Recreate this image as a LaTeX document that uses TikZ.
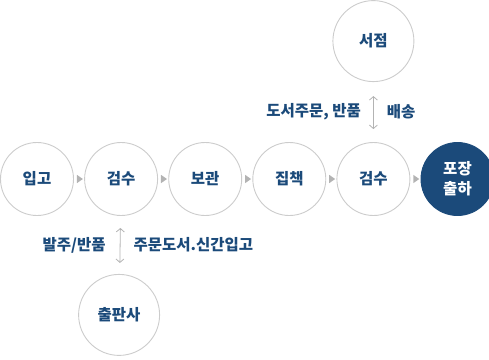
\documentclass[tikz,border=0pt]{standalone}
\usepackage{fontspec}
\setmainfont{Noto Sans CJK KR}
\usepackage{tikz}
\usetikzlibrary{shapes,arrows.meta,positioning,calc}

\definecolor{navy}{HTML}{1B4A7A}
\definecolor{ring}{HTML}{CCCCCC}
\definecolor{tip}{HTML}{B3B3B3}

\begin{document}
\begin{tikzpicture}[
    node distance=10.2pt,
    stage/.style={circle, draw=ring, line width=0.9pt, fill=white, minimum size=73pt, inner sep=0pt, text=navy, font=\fontsize{15.5pt}{20pt}\selectfont\bfseries, align=center},
    outer/.style={stage, minimum size=81pt},
    final/.style={stage, draw=navy, fill=navy, text=white},
    tri/.style={isosceles triangle, fill=tip, inner sep=0pt, minimum height=6pt, minimum width=7pt, isosceles triangle apex angle=70},
    line/.style={draw=tip, line width=0.8pt, {Straight Barb[length=3.5pt,width=8pt]}-{Straight Barb[length=3.5pt,width=8pt]}},
    lbl/.style={text=navy, font=\fontsize{15.5pt}{18pt}\selectfont\bfseries, inner sep=0pt}
]
    \useasboundingbox (0,0) rectangle (489pt,-359pt);

    \node [stage] (stock) at (37pt,-179pt) {입고};
    \node [stage, right=of stock] (check1) {검수};
    \node [stage, right=of check1] (keep) {보관};
    \node [stage, right=of keep] (pick) {집책};
    \node [stage, right=of pick] (check2) {검수};
    \node [final, right=of check2] (ship) {포장\\출하};

    \node [outer, above=60pt of check2] (store) {서점};
    \node [outer, below=58pt of check1, xshift=-2pt] (pub) {출판사};

    \path (stock) -- node[tri] {} (check1);
    \path (check1) -- node[tri] {} (keep);
    \path (keep) -- node[tri] {} (pick);
    \path (pick) -- node[tri] {} (check2);
    \path (check2) -- node[tri] {} (ship);

    \path [line, shorten <=14pt, shorten >=13pt] (store) -- node[lbl, left=12pt] {도서주문, 반품} node[lbl, right=13pt] {배송} (check2);
    \path [line, shorten <=12pt, shorten >=11pt] (check1) -- node[lbl, left=14pt] {발주/반품} node[lbl, right=13pt] {주문도서.신간입고} (pub);
\end{tikzpicture}
\end{document}
